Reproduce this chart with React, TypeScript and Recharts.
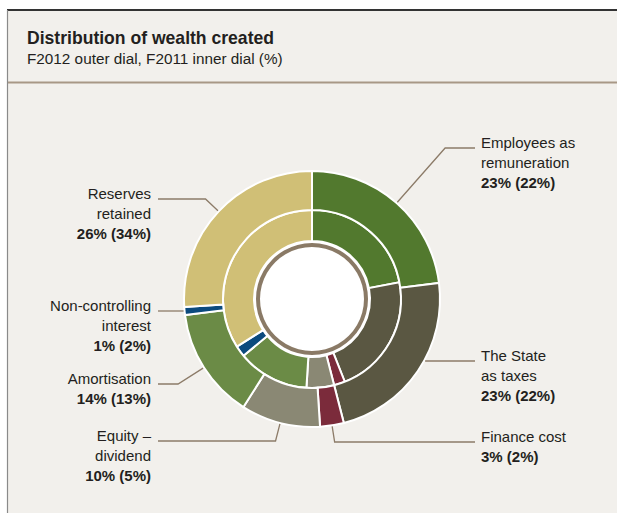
import { PieChart, Pie, Cell } from "recharts";

// Distribution of wealth created, % — outer dial F2012, inner dial F2011
const LABEL_LINES = [
  ["Employees as", "remuneration"],
  ["The State", "as taxes"],
  ["Finance cost"],
  ["Equity –", "dividend"],
  ["Amortisation"],
  ["Non-controlling", "interest"],
  ["Reserves", "retained"],
];
const F2012 = [23, 23, 3, 10, 14, 1, 26];
const F2011 = [22, 22, 2, 5, 13, 2, 34];

const COLORS = ["#52792e", "#5a5742", "#7b2b3b", "#8a8874", "#6b8b46", "#0b4a7e", "#d0bf76"];

// label placement (leader line height and which side of the dial)
const LABEL_Y = [148, 361, 442, 441, 384, 311, 199];
const LABEL_SIDE = ["right", "right", "right", "left", "left", "left", "left"];

const W = 617;
const H = 513;
const CX = 312;
const CY = 299;
const OUTER_R = 128;
const FONT = "'Liberation Sans', Arial, Helvetica, sans-serif";
const TEXT = "#231f20";
const LEADER = "#8c7b68";

const outerData = F2012.map((v, i) => ({ name: LABEL_LINES[i].join(" "), value: v }));
const innerData = F2011.map((v, i) => ({ name: LABEL_LINES[i].join(" "), value: v }));

const RAD = Math.PI / 180;

function renderLabel(props: any) {
  const { cx, cy, midAngle, outerRadius, index } = props;
  const side = LABEL_SIDE[index];
  const lineY = LABEL_Y[index];
  const dx = Math.cos(-midAngle * RAD);
  const dy = Math.sin(-midAngle * RAD);
  const r = outerRadius + 1;
  let sx = cx + r * dx;
  let sy = cy + r * dy;
  let ex = sx;
  let ey = sy;
  const t = Math.abs(dy) > 0.01 ? (lineY - sy) / dy : 0;
  if (t >= 0 && t < 100) {
    ex = sx + t * dx;
    ey = lineY;
  } else {
    const off = Math.sqrt(Math.max(0, r * r - (lineY - cy) * (lineY - cy)));
    sx = side === "right" ? cx + off : cx - off;
    sy = lineY;
    ex = sx;
    ey = lineY;
  }
  const endX = side === "right" ? 475 : 158;
  const textX = side === "right" ? 481 : 151;
  const lines = [...LABEL_LINES[index], `${F2012[index]}% (${F2011[index]}%)`];
  return (
    <g key={`lab-${index}`}>
      <polyline
        points={`${sx},${sy} ${ex},${ey} ${endX},${lineY}`}
        fill="none"
        stroke={LEADER}
        strokeWidth={1.3}
      />
      <text
        x={textX}
        y={lineY}
        textAnchor={side === "right" ? "start" : "end"}
        fontFamily={FONT}
        fontSize={15}
        fill={TEXT}
      >
        {lines.map((l, k) => (
          <tspan
            key={k}
            x={textX}
            dy={k === 0 ? 0 : 20}
            fontWeight={k === lines.length - 1 ? "bold" : "normal"}
          >
            {l}
          </tspan>
        ))}
      </text>
    </g>
  );
}

export default function App() {
  return (
    <div style={{ position: "absolute", left: 0, top: 0, width: W, height: H, background: "#fff" }}>
      <svg width={W} height={H} style={{ position: "absolute", left: 0, top: 0 }}>
        <rect x={7} y={10} width={W - 7} height={H - 10} fill="#f2f0ec" />
        <line x1={7} y1={10} x2={W} y2={10} stroke="#333" strokeWidth={2} />
        <line x1={7.5} y1={10} x2={7.5} y2={H} stroke="#8a8a8a" strokeWidth={1.2} />
        <line x1={8} y1={82.5} x2={W} y2={82.5} stroke="#a89886" strokeWidth={2} />
        <text x={27} y={44} fontFamily={FONT} fontSize={19} fontWeight="bold" fill={TEXT} textLength={247} lengthAdjust="spacingAndGlyphs">
          Distribution of wealth created
        </text>
        <text x={27} y={64} fontFamily={FONT} fontSize={15.3} fill={TEXT}>
          F2012 outer dial, F2011 inner dial (%)
        </text>
      </svg>
      <div style={{ position: "absolute", left: 0, top: 0 }}>
        <PieChart width={W} height={H} margin={{ top: 0, right: 0, bottom: 0, left: 0 }}>
          <Pie
            data={[{ name: "hub", value: 1 }]}
            dataKey="value"
            cx={CX}
            cy={CY}
            innerRadius={0}
            outerRadius={58}
            fill="#ffffff"
            stroke="none"
            isAnimationActive={false}
          />
          <Pie
            data={[{ name: "ring", value: 1 }]}
            dataKey="value"
            cx={CX}
            cy={CY}
            innerRadius={52}
            outerRadius={56}
            fill="#8a7a66"
            stroke="none"
            isAnimationActive={false}
          />
          <Pie
            data={innerData}
            dataKey="value"
            nameKey="name"
            cx={CX}
            cy={CY}
            startAngle={90}
            endAngle={-270}
            innerRadius={58}
            outerRadius={89}
            stroke="#ffffff"
            strokeWidth={2}
            isAnimationActive={false}
          >
            {innerData.map((_, i) => (
              <Cell key={i} fill={COLORS[i]} />
            ))}
          </Pie>
          <Pie
            data={outerData}
            dataKey="value"
            nameKey="name"
            cx={CX}
            cy={CY}
            startAngle={90}
            endAngle={-270}
            innerRadius={89}
            outerRadius={OUTER_R}
            stroke="#ffffff"
            strokeWidth={2}
            label={renderLabel}
            labelLine={false}
            isAnimationActive={false}
          >
            {outerData.map((_, i) => (
              <Cell key={i} fill={COLORS[i]} />
            ))}
          </Pie>
        </PieChart>
      </div>
    </div>
  );
}
